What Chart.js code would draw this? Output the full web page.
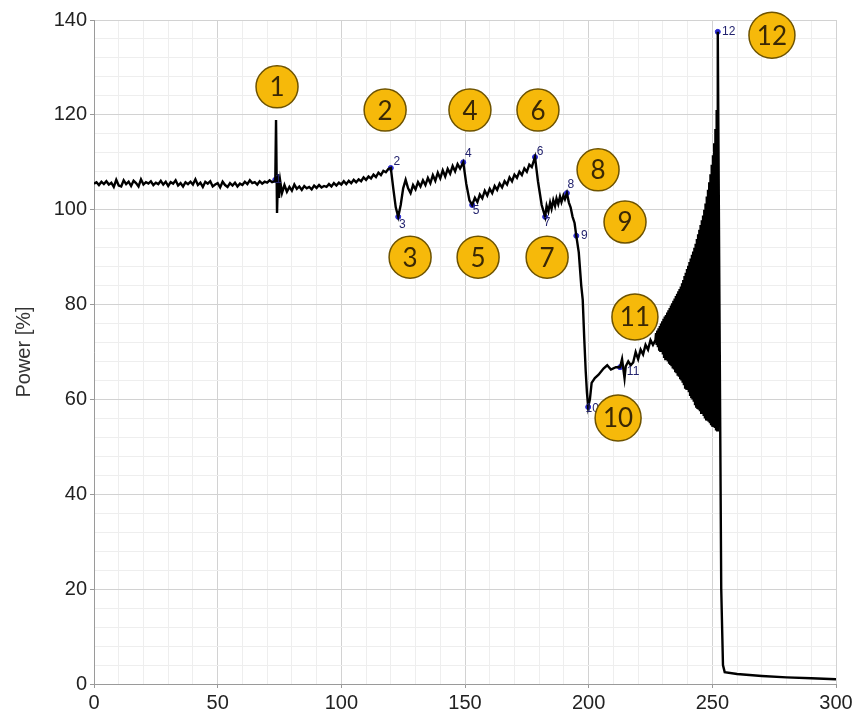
<!DOCTYPE html>
<html>
<head>
<meta charset="utf-8">
<script src="https://cdn.jsdelivr.net/npm/chart.js@4.4.1/dist/chart.umd.min.js"></script>
<style>
  html, body { margin: 0; padding: 0; background: #fff; }
  #wrap { width: 859px; height: 721px; position: relative; }
</style>
</head>
<body>
<div id="wrap"><canvas id="powerChart"></canvas></div>
<script>
// time [s] and power [%], segment by segment
const timeS = [
  0,1,2,3,4,5,6,7,8,9,
  10,11,12,13,14,15,16,17,18,19,
  20,21,22,23,24,25,26,27,28,29,
  30,31,32,33,34,35,36,37,38,39,
  40,41,42,43,44,45,46,47,48,49,
  50,51,52,53,54,55,56,57,58,59,
  60,61,62,63,64,65,66,67,68,69,
  70,71,72,73,
  73.3,73.6,74.0,74.4,74.8,75.3,76,77,78,
  79,80,81,82,83,84,85,86,87,88,
  89,90,91,92,93,94,95,96,97,98,
  99,100,101,102,103,104,105,106,107,108,
  109,110,111,112,113,114,115,116,117,118,
  119,120,
  121,122,123,124,125,126,127,128,129,130,
  131,132,133,134,135,136,137,138,139,140,
  141,142,143,144,145,146,147,148,
  149.3,
  150.5,151.8,152.9,
  154,155,156,157,158,159,160,161,162,163,
  164,165,166,167,168,169,170,171,172,173,
  174,175,176,177,
  178.3,
  179.5,181,182.4,183,183.7,184.4,185,185.7,186.4,187,187.7,188.4,189,189.8,190.4,191.2,192,192.7,193.5,194.3,195,
  196,197,197.6,198.2,198.8,199.3,199.8,200.5,201.2,202.5,204,206,207.5,209,211,212.7,
  213.5,214.5,215,216,217,218,219,220,221,222,223,224,225,226,227,
  227.25,227.5,227.75,228,228.25,228.5,228.75,229,229.25,229.5,
  229.75,230,230.25,230.5,230.75,231,231.25,231.5,231.75,232,
  232.25,232.5,232.75,233,233.25,233.5,233.75,234,234.25,234.5,
  234.75,235,235.25,235.5,235.75,236,236.25,236.5,236.75,237,
  237.25,237.5,237.75,238,238.25,238.5,238.75,239,239.25,239.5,
  239.75,240,240.25,240.5,240.75,241,241.25,241.5,241.75,242,
  242.25,242.5,242.75,243,243.25,243.5,243.75,244,244.25,244.5,
  244.75,245,245.25,245.5,245.75,246,246.25,246.5,246.75,247,
  247.25,247.5,247.75,248,248.25,248.5,248.75,249,249.25,249.5,
  249.75,250,250.25,250.5,250.75,251,251.25,251.5,251.75,252,
  252.2,
  253.0,253.6,254.3,255,260,270,280,290,300
];

const powerPct = [
  105.5,105.8,105.2,105.9,105.4,106.0,105.3,105.7,104.8,106.3,
  105.1,104.9,106.2,105.4,105.9,105.0,106.1,105.6,104.9,106.4,
  105.3,105.8,105.5,106.0,105.2,105.7,105.4,106.1,105.3,105.9,
  105.0,105.8,105.5,106.2,105.1,105.6,104.9,105.8,105.4,105.9,
  105.3,106.4,105.2,105.7,104.8,105.9,105.5,106.0,104.9,105.3,
  105.6,104.7,105.9,105.2,104.8,105.6,105.1,105.7,104.9,105.5,
  105.2,105.9,105.4,106.2,105.6,105.8,105.3,106.0,105.5,105.9,
  105.7,106.2,105.8,106.0,
  106.3,118.9,99.3,107.5,102.5,106.0,103.5,105.2,103.8,
  104.8,104.0,105.3,104.4,104.9,104.2,105.0,104.5,104.8,104.3,
  105.1,104.6,105.2,104.7,105.0,104.8,105.4,104.9,105.6,105.1,
  105.7,105.3,106.0,105.4,106.1,105.6,106.3,105.8,106.4,106.0,
  106.8,106.3,107.0,106.6,107.4,106.9,107.8,107.3,108.2,107.9,
  108.6,108.8,
  104.5,100.5,98.5,101.0,104.5,106.3,104.5,103.5,105.2,104.3,
  105.8,104.9,106.2,105.2,106.7,105.6,107.3,106.1,107.8,106.6,
  108.3,107.0,108.6,107.6,109.2,108.1,109.6,108.7,
  110.0,
  105.5,102.0,101.0,
  102.5,101.6,103.2,102.4,104.0,103.0,104.4,103.5,105.0,104.2,
  105.5,104.7,106.0,105.3,106.8,106.0,107.4,106.7,108.0,107.3,
  108.7,108.0,109.5,109.0,
  111.1,
  106.0,101.0,98.5,100.8,99.6,101.5,100.2,102.0,100.8,102.4,101.2,102.8,101.6,103.0,102.2,103.5,101.5,100.5,98.5,97.2,94.5,
  91.0,84.0,81.0,73.0,66.0,61.5,58.4,60.0,63.5,64.5,65.2,66.5,67.2,66.3,66.8,66.8,
  68.5,64.5,67.0,68.0,67.2,67.8,70.0,68.5,70.5,69.5,71.5,70.5,72.5,71.5,72.5,
  74.0,71.5,74.5,71.0,75.0,70.5,75.5,70.0,76.0,70.0,
  76.5,69.5,77.0,69.0,77.5,68.5,77.8,68.5,78.3,68.0,
  78.8,67.8,79.3,67.5,79.8,67.0,80.3,66.5,80.8,66.3,
  81.3,66.0,81.8,65.5,82.3,65.0,82.8,64.8,83.3,64.5,
  83.8,64.0,84.5,63.5,85.2,63.0,86.0,62.5,86.7,62.3,
  87.5,62.0,88.2,61.5,89.0,61.0,89.7,60.5,90.5,60.0,
  91.2,59.5,92.0,59.0,92.8,58.5,93.8,58.0,94.8,57.8,
  95.8,57.5,96.8,57.2,97.8,57.0,98.8,56.5,100.0,56.0,
  101.3,55.8,102.8,55.5,104.2,55.3,105.8,55.0,107.5,54.8,
  109.5,54.5,111.5,54.2,114.0,54.0,117.0,53.7,121.0,53.5,
  137.5,
  70.0,20.0,4.0,2.5,2.1,1.7,1.4,1.2,1.0
];

// numbered events on the trace
const eventIds = ['1','2','3','4','5','6','7','8','9','10','11','12'];
const eventT = [73.3, 120, 123, 149.3, 152.9, 178.3, 182.4, 191.2, 195, 199.8, 212.7, 252.2];
const eventP = [106.3, 108.8, 98.5, 110.0, 101.0, 111.1, 98.5, 103.5, 94.5, 58.4, 66.8, 137.5];

const xTickLabels = [0, 50, 100, 150, 200, 250, 300];
const yTickLabels = [0, 20, 40, 60, 80, 100, 120, 140];

// yellow call-out badges, placed in data units
const badgeT = [74.0, 117.7, 127.8, 152.0, 155.3, 179.5, 183.2, 203.8, 214.7, 211.9, 218.7, 274.1];
const badgeP = [125.9, 121.0, 90.0, 121.0, 90.0, 121.0, 90.0, 108.4, 97.4, 56.1, 77.4, 136.8];
// small numeral offsets from the event point, in px
const tagOffset = [[3,0],[6,-6],[4,8],[5,-9],[4,6],[5,-5],[2,6],[4,-8],[8,0],[4,2],[13,5],[11,0]];

const traceData = timeS.map((t, i) => ({ x: t, y: powerPct[i] }));
const eventData = eventT.map((t, i) => ({ x: t, y: eventP[i] }));

const calloutPlugin = {
  id: 'callouts',
  afterDatasetsDraw(chart) {
    const ctx = chart.ctx;
    const xs = chart.scales.x, ys = chart.scales.y;
    ctx.save();
    // small numerals next to each event marker
    ctx.font = '12px "Liberation Sans", Arial, sans-serif';
    ctx.fillStyle = '#23236e';
    ctx.textAlign = 'center';
    ctx.textBaseline = 'middle';
    eventIds.forEach((id, i) => {
      const px = xs.getPixelForValue(eventT[i]) + tagOffset[i][0];
      const py = ys.getPixelForValue(eventP[i]) + tagOffset[i][1];
      ctx.fillText(id, px, py);
    });
    // yellow badges
    eventIds.forEach((id, i) => {
      const cx = xs.getPixelForValue(badgeT[i]);
      const cy = ys.getPixelForValue(badgeP[i]);
      const r = id.length > 1 ? 23 : 21;
      ctx.beginPath();
      ctx.arc(cx, cy, r, 0, Math.PI * 2);
      ctx.fillStyle = '#f6b90a';
      ctx.fill();
      ctx.lineWidth = 1.5;
      ctx.strokeStyle = '#6e5300';
      ctx.stroke();
      ctx.fillStyle = '#3a2805';
      ctx.font = '26px Lato, "Open Sans", sans-serif';
      ctx.fillText(id, cx, cy + 1);
    });
    ctx.restore();
  }
};

const tickFont = { family: '"Liberation Sans", Arial, sans-serif', size: 20 };

new Chart(document.getElementById('powerChart'), {
  type: 'line',
  data: {
    datasets: [{
      label: 'Power',
      data: traceData,
      borderColor: '#000',
      borderWidth: 2.4,
      pointRadius: 0,
      tension: 0
    }, {
      label: 'Events',
      data: eventData,
      showLine: false,
      pointRadius: 2.5,
      pointBackgroundColor: '#2a2ad0',
      pointBorderColor: '#2a2ad0'
    }]
  },
  options: {
    responsive: true,
    maintainAspectRatio: false,
    animation: false,
    layout: { padding: { top: 20, right: 23, left: 0, bottom: 0 } },
    plugins: { legend: { display: false }, tooltip: { enabled: false } },
    scales: {
      x: {
        type: 'linear',
        min: 0,
        max: 300,
        afterFit(scale) { scale.height = 37; },
        ticks: {
          stepSize: 10,
          autoSkip: false,
          maxRotation: 0,
          padding: 3,
          color: '#222',
          font: tickFont,
          callback: v => xTickLabels.includes(v) ? v : ''
        },
        grid: {
          color: c => c.tick && c.tick.value % 50 === 0 ? '#d2d2d2' : '#eeeeee',
          tickColor: c => c.tick && c.tick.value % 50 === 0 ? '#999' : 'rgba(0,0,0,0)',
          tickLength: 4
        },
        border: { color: '#9a9a9a', width: 1 }
      },
      y: {
        min: 0,
        max: 140,
        afterFit(scale) { scale.width = 94; },
        ticks: {
          stepSize: 4,
          autoSkip: false,
          padding: 3,
          color: '#222',
          font: tickFont,
          callback: v => yTickLabels.includes(v) ? v : ''
        },
        grid: {
          color: c => c.tick && c.tick.value % 20 === 0 ? '#d2d2d2' : '#eeeeee',
          tickColor: c => c.tick && c.tick.value % 20 === 0 ? '#999' : 'rgba(0,0,0,0)',
          tickLength: 4
        },
        border: { color: '#9a9a9a', width: 1 },
        title: {
          display: true,
          text: 'Power [%]',
          color: '#333',
          font: { family: '"Liberation Sans", Arial, sans-serif', size: 20 },
          padding: { top: 12, bottom: 0 }
        }
      }
    }
  },
  plugins: [calloutPlugin]
});
</script>
</body>
</html>
